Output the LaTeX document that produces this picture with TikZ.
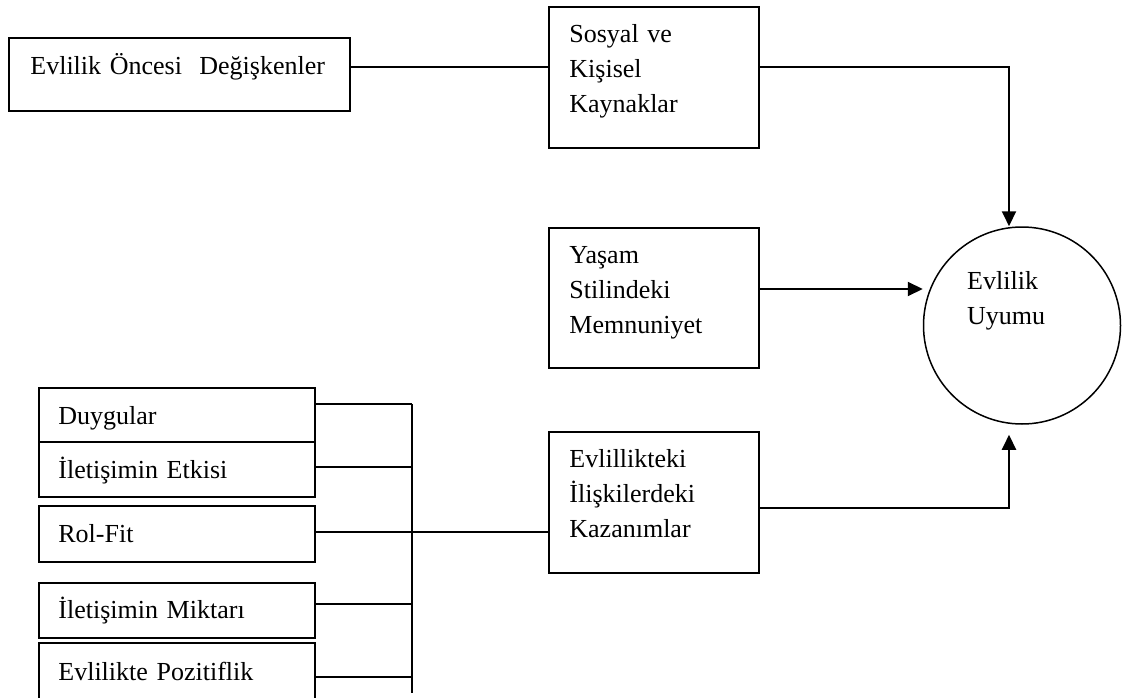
\documentclass[tikz,border=0pt]{standalone}
\usepackage{fontspec}
\setmainfont{Liberation Serif}
\usetikzlibrary{calc,arrows.meta}

\begin{document}
\begin{tikzpicture}[x=1pt,y=-1pt,
  box/.style={draw, line width=1.6pt, rectangle, inner sep=0pt},
  midbox/.style={box, minimum width=210pt, minimum height=141pt},
  lbox/.style={box, minimum width=276pt},
  txt/.style={inner sep=0pt, align=left, text width=300pt, anchor=base west, font=\fontsize{26}{35}\selectfont},
  ln/.style={line width=2pt},
  arr/.style={line width=2pt, -{Triangle[length=15pt,width=14pt]}}]
\useasboundingbox (0,0) rectangle (1126,698);
% boxes
\node [box, minimum width=341pt, minimum height=73pt] (once) at (179.5,74.5) {};
\node [midbox] (sosyal) at (654,77.5) {};
\node [midbox, minimum height=140pt] (yasam) at (654,298) {};
\node [midbox] (kazan) at (654,502.5) {};
\node [draw, circle, line width=1.5pt, minimum size=197pt, inner sep=0pt] (uyum) at (1022,325.5) {};
\node [lbox, minimum height=54pt] (duyg) at (177,415) {};
\node [lbox, minimum height=55pt] (etki) at (177,469.5) {};
\node [lbox, minimum height=56pt] (rol) at (177,534) {};
\node [lbox, minimum height=55pt] (mikt) at (177,610.5) {};
\node [lbox, minimum height=57pt] (poz) at (177,671.5) {};
% texts
\node [txt] (onceT) at ($(once.west)+(22,0)$) {Evlilik Öncesi\ \ Değişkenler};
\node [txt] (sosyalT) at ($(sosyal.north west)+(21,36)$) {Sosyal ve\\Kişisel\\Kaynaklar};
\node [txt] (yasamT) at ($(yasam.north west)+(21,36)$) {Yaşam\\Stilindeki\\Memnuniyet};
\node [txt] (kazanT) at ($(kazan.north west)+(21,36)$) {Evlillikteki\\İlişkilerdeki\\Kazanımlar};
\node [txt] (uyumT) at ($(uyum.center)+(-55,-36.5)$) {Evlilik\\Uyumu};
\node [txt] (duygT) at ($(duyg.west)+(20,9)$) {Duygular};
\node [txt] (etkiT) at ($(etki.west)+(20,8.5)$) {İletişimin Etkisi};
\node [txt] (rolT) at ($(rol.west)+(20,8)$) {Rol-Fit};
\node [txt] (miktT) at ($(mikt.west)+(20,7.5)$) {İletişimin Miktarı};
\node [txt] (pozT) at ($(poz.west)+(20,8.5)$) {Evlilikte Pozitiflik};
% connectors
\draw [ln] ([yshift=7.5]once.east) -- ([yshift=7.5]once.east -| sosyal.west);
\draw [arr] ([yshift=10.5]sosyal.east) -| ([xshift=-13]uyum.north);
\draw [arr] ([yshift=9]yasam.east) -- ([yshift=9]yasam.east -| uyum.west);
\draw [arr] ([yshift=-5.5]kazan.east) -| ([xshift=-13,yshift=-10]uyum.south);
\coordinate (busT) at (412,404);
\coordinate (busB) at (412,693);
\draw [ln] (busT) -- (busB);
\foreach \b/\s in {duyg/11, etki/2.5, mikt/6.5, poz/-5.5}
  \draw [ln] ([yshift=\s]\b.east) -- ([yshift=\s]\b.east -| busT);
\draw [ln] ([yshift=2]rol.east) -- ([yshift=2]rol.east -| kazan.west);
\end{tikzpicture}
\end{document}
